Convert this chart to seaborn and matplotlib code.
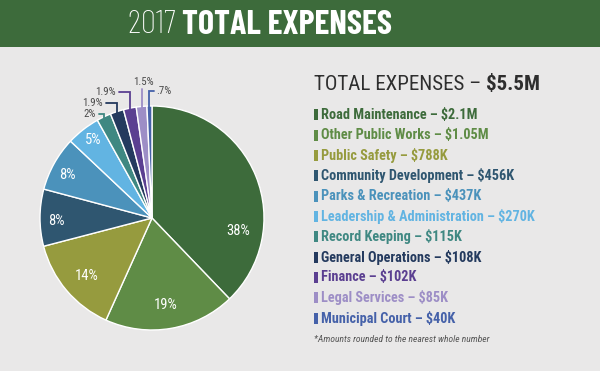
import numpy as np
import matplotlib
matplotlib.use("Agg")
import matplotlib.pyplot as plt
import seaborn as sns
from matplotlib import font_manager
from matplotlib.patches import Rectangle
from matplotlib.lines import Line2D

# ---------------- data ----------------
categories = ["Road Maintenance", "Other Public Works", "Public Safety",
              "Community Development", "Parks & Recreation",
              "Leadership & Administration", "Record Keeping",
              "General Operations", "Finance", "Legal Services", "Municipal Court"]
amounts_k = [2100, 1050, 788, 456, 437, 270, 115, 108, 102, 85, 40]
amount_labels = ["$2.1M", "$1.05M", "$788K", "$456K", "$437K", "$270K",
                 "$115K", "$108K", "$102K", "$85K", "$40K"]
pct_labels = ["38%", "19%", "14%", "8%", "8%", "5%", "2%", "1.9%", "1.9%", "1.5%", ".7%"]
total_label = "$5.5M"
year_label = "2017"

colors = ["#3d6b3b", "#5f8c46", "#969b3e", "#2f5670", "#4b92bb", "#62b4e2",
          "#3f8882", "#243a5e", "#5b3f91", "#9d8ec6", "#4561a9"]

# ---------------- style ----------------
sns.set_theme(style="white")
names = {f.name for f in font_manager.fontManager.ttflist}

def pick(cands):
    for c in cands:
        if c in names:
            return c
    return "DejaVu Sans"

COND = pick(["Roboto Condensed", "Archivo Narrow", "Barlow Semi Condensed",
             "Asap Condensed", "Barlow Condensed", "Roboto"])
NARROW = pick(["Barlow Condensed", "Roboto Condensed", "Archivo Narrow", "Roboto"])
plt.rcParams["font.family"] = [COND, "DejaVu Sans"]

W, H = 600, 371
fig = plt.figure(figsize=(W / 100, H / 100), dpi=100)
BG = "#e9e8e8"
fig.patch.set_facecolor(BG)
renderer = fig.canvas.get_renderer()

def fx(px):
    return px / W

def fy(py):
    return 1 - py / H

def width_of(s, size, **kw):
    t = fig.text(0, 0, s, fontsize=size, **kw)
    w = t.get_window_extent(renderer).width
    t.remove()
    return w

def fit_size(parts, target, size0=10):
    w = sum(width_of(s, size0, **kw) for s, kw in parts)
    return size0 * target / w

def two_part(x, y, parts, size, color):
    cur = x
    for s, kw in parts:
        t = fig.text(cur / W, fy(y), s, color=color, fontsize=size, va="center",
                     ha="left", **kw)
        cur = t.get_window_extent(renderer).x1

# banner
fig.patches.append(Rectangle((0, fy(47)), 1, 47 / H, transform=fig.transFigure,
                             facecolor="#3d6b3b", edgecolor="none", zorder=0))

# title
title_parts = [(year_label + " ", dict(fontweight="light", family=[NARROW, "DejaVu Sans"])),
               ("TOTAL EXPENSES", dict(fontweight="bold", family=[NARROW, "DejaVu Sans"]))]
ts = fit_size(title_parts, 265)
two_part(128, 25, title_parts, ts, "white")

# ---------------- pie ----------------
cx, cy, R = 152, 218, 112
ax = fig.add_axes([fx(cx - R), (H - cy - R) / H, 2 * R / W, 2 * R / H])
wedges, _ = ax.pie(amounts_k, colors=colors, startangle=90, counterclock=False,
                   radius=1, wedgeprops=dict(edgecolor="white", linewidth=1.0))
ax.set_xlim(-1, 1)
ax.set_ylim(-1, 1)
ax.set_aspect("equal")
ax.axis("off")

def to_data(px, py):
    return (px - cx) / R, (cy - py) / R

inside_pos = [(238, 231), (166, 305), (87, 276), (56, 221), (67, 175), (93, 140)]
for i, (px, py) in enumerate(inside_pos):
    x, y = to_data(px, py)
    ax.text(x, y, pct_labels[i], color="white", fontsize=10.5, ha="center",
            va="center")

outside_layout = [
    (96, 114, "right", (99, 114)),
    (103, 103, "right", (106, 103)),
    (116, 92, "right", (119, 92)),
    (143, 82, "center", (0, 89)),
    (156, 91, "left", (154, 91)),
]
for k, (px, py, ha, start) in enumerate(outside_layout):
    i = 6 + k
    w = wedges[i]
    mid = np.deg2rad((w.theta1 + w.theta2) / 2)
    axx, ayy = np.cos(mid) * 0.99, np.sin(mid) * 0.99
    x, y = to_data(px, py)
    ax.text(x, y, pct_labels[i], color="#4a4a4a", fontsize=7.8, ha=ha,
            va="center", clip_on=False)
    sx, sy = to_data(*start)
    if ha == "center":
        sx = axx
    ax.add_line(Line2D([sx, axx, axx], [sy, sy, ayy], color=colors[i], lw=1.3,
                       clip_on=False, solid_joinstyle="miter"))

# ---------------- legend ----------------
head_parts = [("TOTAL EXPENSES \u2013 ", dict(fontweight="normal")),
              (total_label, dict(fontweight="bold"))]
hs = fit_size(head_parts, 226)
two_part(314, 84, head_parts, hs, "#2e2e2e")

ls = fit_size([(f"{categories[0]} \u2013 {amount_labels[0]}", dict(fontweight="bold"))], 156)
y0, dy = 115, 20.3
for i, (cat, amt) in enumerate(zip(categories, amount_labels)):
    yy = y0 + i * dy
    fig.patches.append(Rectangle((fx(314), fy(yy + 5.5)), 3.5 / W, 11 / H,
                                 transform=fig.transFigure, facecolor=colors[i],
                                 edgecolor="none"))
    fig.text(fx(321), fy(yy), f"{cat} \u2013 {amt}", color=colors[i],
             fontsize=ls, fontweight="bold", va="center", ha="left")

note = "*Amounts rounded to the nearest whole number"
ns = fit_size([(note, dict(style="italic"))], 174)
fig.text(fx(314), fy(339), note, color="#555555", fontsize=ns, style="italic",
         va="center", ha="left")

fig.savefig("out.png", dpi=100, facecolor=BG)
